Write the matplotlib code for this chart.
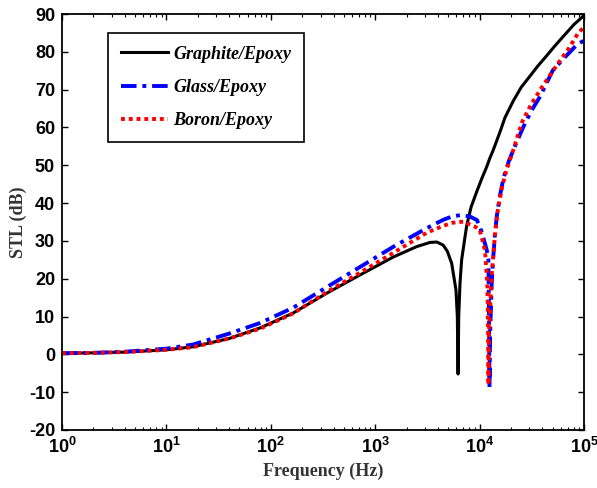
import matplotlib
matplotlib.use('Agg')
import matplotlib.pyplot as plt
from matplotlib.ticker import FixedLocator, LogLocator, NullFormatter

plt.rcParams['mathtext.fontset'] = 'custom'
plt.rcParams['mathtext.bf'] = 'Liberation Sans:bold'
plt.rcParams['mathtext.rm'] = 'Liberation Sans:bold'
plt.rcParams['axes.unicode_minus'] = False

# sound transmission loss vs frequency for three laminates
freq_graphite = [1, 2, 4, 10, 18, 40, 79, 163, 345, 715, 1480, 2500, 3350, 3900,
                 4470, 4900, 5400, 5940, 6120, 6220, 6310, 6490, 6730, 7250, 7520,
                 8300, 9380, 10500, 11700, 12500, 13500, 15670, 17500, 21000, 25000,
                 30400, 36000, 44000, 52000, 63000, 80000, 100000]
stl_graphite = [0.3, 0.4, 0.6, 1.2, 2.0, 4.2, 7.0, 10.9, 16.2, 21.0, 25.7, 28.5, 29.6, 29.7,
                28.9, 27.3, 24.1, 17.0, 10.0, -5.2, 10.0, 18.8, 25.0, 31.1, 34.0,
                39.0, 43.0, 46.5, 49.6, 51.8, 54.0, 58.8, 62.6, 67.0, 70.6,
                73.6, 76.2, 79.0, 81.4, 84.0, 87.2, 89.6]

freq_glass = [1, 2, 4, 10, 18, 40, 79, 163, 345, 715, 1480, 3133, 4500, 5500,
              6490, 8000, 9440, 10470, 11700, 12150, 12300, 12440, 12600, 13060,
              13500, 14000, 14600, 15670, 17000, 19000, 21000, 26000, 31000, 37600,
              50500, 69000, 85000, 100000]
stl_glass = [0.3, 0.4, 0.7, 1.5, 2.6, 5.5, 8.3, 12.3, 17.8, 23.1, 28.4, 33.4, 35.6, 36.5,
             36.8, 36.5, 35.5, 32.4, 27.6, 24.9, 10.0, -8.9, 5.0, 18.8,
             25.5, 31.5, 36.5, 42.0, 46.8, 51.0, 54.0, 59.9, 64.2, 68.0,
             75.2, 79.2, 81.8, 83.0]

freq_boron = [1, 2, 4, 10, 18, 40, 79, 163, 345, 715, 1480, 3133, 4500, 5500,
              6980, 9000, 10040, 11250, 11850, 12050, 12150, 12300, 12900,
              13500, 14200, 15000, 16500, 18200, 21000, 25500, 31000, 39000,
              55000, 72000, 88000, 100000]
stl_boron = [0.3, 0.4, 0.6, 1.2, 1.9, 4.2, 6.8, 10.8, 16.5, 21.6, 26.8, 32.2, 34.0, 34.8,
             35.1, 33.8, 32.9, 27.6, 18.8, 8.0, -8.0, 5.0, 18.8,
             26.0, 33.0, 38.5, 44.5, 49.0, 54.0, 61.4, 66.0, 70.4,
             76.5, 81.0, 85.0, 86.5]

labels = ['Graphite/Epoxy', 'Glass/Epoxy', 'Boron/Epoxy']

fig = plt.figure(figsize=(5.97, 4.88), dpi=100)
ax = fig.add_axes([62 / 597, 1 - 430 / 488, 522 / 597, 416 / 488])

ax.semilogx(freq_graphite, stl_graphite, color='black', lw=2.2, label=labels[0])
ax.semilogx(freq_glass, stl_glass, color='blue', lw=2.8, ls=(0, (4, 1.5, 1, 1.5)),
            label=labels[1])
ax.semilogx(freq_boron, stl_boron, color='red', lw=2.8, ls=(0, (1, 1)), label=labels[2])

ax.set_xlim(1, 1e5)
ax.set_ylim(-20, 90)
ax.set_yticks(range(-20, 91, 10))
ax.xaxis.set_major_locator(FixedLocator([1, 10, 100, 1000, 1e4, 1e5]))
ax.set_xticklabels([r'$\mathbf{10^{%d}}$' % i for i in range(6)])
ax.xaxis.set_minor_locator(LogLocator(base=10, subs=range(2, 10), numticks=20))
ax.xaxis.set_minor_formatter(NullFormatter())
ax.tick_params(which='both', direction='in', top=True, right=True)
ax.tick_params(which='major', length=4, width=1, labelsize=13, pad=5)
ax.tick_params(which='minor', length=2.5, width=0.8)
for lab in ax.get_yticklabels():
    lab.set_fontfamily('Liberation Sans')
    lab.set_fontweight('bold')
for sp in ax.spines.values():
    sp.set_linewidth(1.3)

ax.set_xlabel('Frequency (Hz)', family='Liberation Serif', weight='bold',
              size=13, color='#333333', labelpad=4)
ax.set_ylabel('STL (dB)', family='Liberation Serif', weight='bold',
              size=13, color='#333333')
ax.yaxis.set_label_coords(-0.067, 0.5)

leg = ax.legend(loc='upper left', bbox_to_anchor=(0.088, 0.954), borderaxespad=0,
                fancybox=False, edgecolor='black', framealpha=1, handlelength=2.6,
                labelspacing=0.9, borderpad=0.7, handletextpad=0.3,
                prop={'family': 'Liberation Serif', 'weight': 'bold',
                      'style': 'italic', 'size': 13})
leg.get_frame().set_linewidth(1.2)

fig.savefig('out.png', dpi=100)
